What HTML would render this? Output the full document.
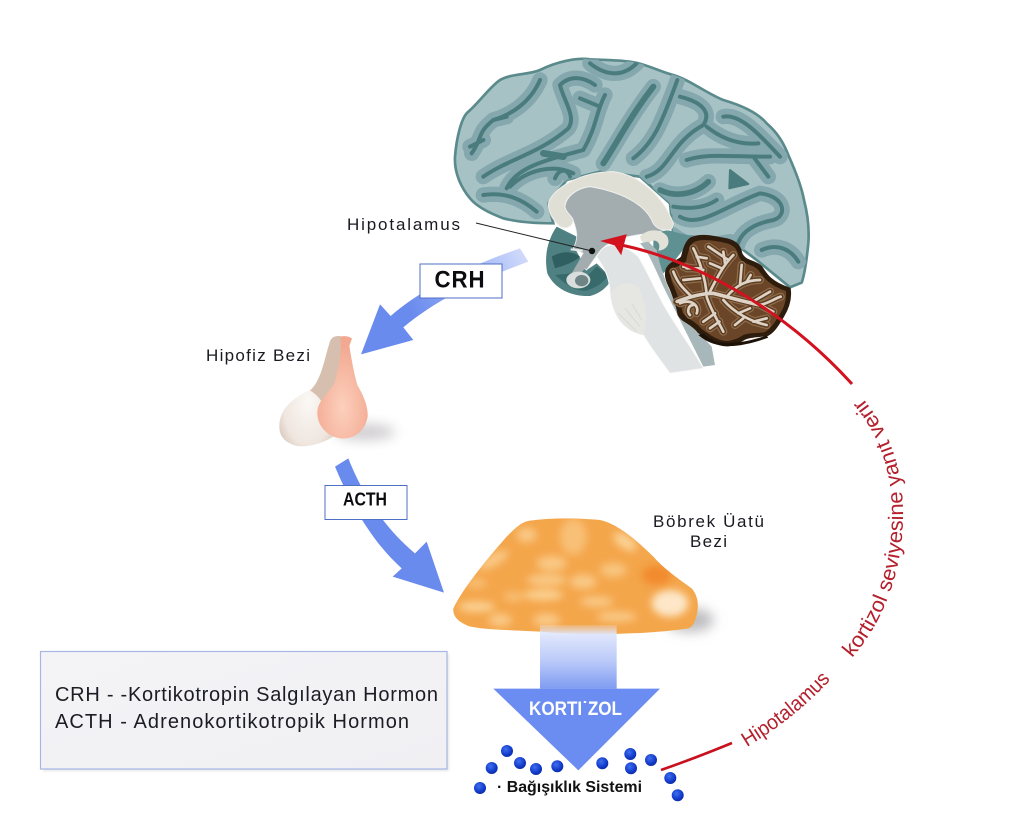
<!DOCTYPE html>
<html><head><meta charset="utf-8">
<style>html,body{margin:0;padding:0;background:#fff}svg{display:block}
text{font-family:"Liberation Sans",sans-serif}</style></head>
<body>
<svg width="1024" height="832" viewBox="0 0 1024 832" xmlns="http://www.w3.org/2000/svg">
<defs>
<linearGradient id="crhz" gradientUnits="userSpaceOnUse" x1="985" y1="135" x2="640" y2="320"><stop offset="0" stop-color="#d3dcfb"/><stop offset=".4" stop-color="#a3b8f6"/><stop offset="1" stop-color="#6a8bee"/></linearGradient>
<linearGradient id="stem" x1="0" y1="0" x2="0" y2="1"><stop offset="0" stop-color="#dfe6fc" stop-opacity=".2"/><stop offset=".16" stop-color="#dfe6fc"/><stop offset=".55" stop-color="#bccbf9"/><stop offset="1" stop-color="#7f9cf1"/></linearGradient>
<linearGradient id="box" x1="0" y1="0" x2="1" y2="1"><stop offset="0" stop-color="#f4f4f7"/><stop offset="1" stop-color="#f0f0f3"/></linearGradient>
<radialGradient id="ball" cx=".4" cy=".35" r=".7"><stop offset="0" stop-color="#3f6ff0"/><stop offset=".7" stop-color="#1038c8"/><stop offset="1" stop-color="#0c2a9c"/></radialGradient>
<radialGradient id="pink" cx=".5" cy=".7" r=".6"><stop offset="0" stop-color="#fcd0bd"/><stop offset="1" stop-color="#f3a991"/></radialGradient>
<radialGradient id="wht" cx=".45" cy=".6" r=".65"><stop offset="0" stop-color="#fbf8f5"/><stop offset=".6" stop-color="#efe6df"/><stop offset="1" stop-color="#c9b3a6"/></radialGradient>
<filter id="b12" x="-60%" y="-80%" width="220%" height="260%"><feGaussianBlur stdDeviation="12"/></filter>
<filter id="b6" x="-40%" y="-60%" width="180%" height="220%"><feGaussianBlur stdDeviation="6"/></filter>
<filter id="b2" x="-10%" y="-10%" width="120%" height="120%"><feGaussianBlur stdDeviation="1.2"/></filter>
<clipPath id="adr"><path d="M40 325C70 265 130 190 200 110C225 85 245 65 270 62C340 52 420 54 480 60C530 70 590 120 640 170C670 205 720 240 755 265C772 285 778 310 770 345C765 365 760 380 745 385C650 400 450 410 300 395C220 390 130 390 85 378C55 365 38 350 40 325Z"/></clipPath>
<clipPath id="brainclip"><path id="bp" d="M45 290C50 230 65 170 85 155C115 130 150 80 180 60C215 40 265 45 300 30C350 5 410 -8 450 -2C490 0 535 0 570 5C620 12 660 35 700 45C750 60 800 100 850 120C900 135 950 155 980 190C1020 225 1035 260 1045 285C1065 330 1085 380 1092 420C1105 470 1108 510 1105 550C1100 600 1095 640 1085 668L1050 682L950 600L870 540L700 525L690 430L600 350L480 335L380 360L325 430L340 490C290 490 240 488 190 475C150 460 110 440 90 415C65 385 42 340 45 290Z"/></clipPath>
<g id="sul" fill="none">
 <path d="M95 280C130 230 110 220 160 180C210 165 270 130 300 60"/>
 <path d="M130 350C200 300 300 280 385 205C410 170 370 120 360 75C390 45 430 50 465 75"/>
 <path d="M200 385C230 320 320 300 430 270C470 200 470 150 495 105"/>
 <path d="M490 310C530 250 570 170 640 80"/>
 <path d="M580 295C640 250 665 190 712 60"/>
 <path d="M450 10C500 50 550 50 590 10"/>
 <path d="M620 350C690 330 690 250 790 195C810 165 800 130 720 110"/>
 <path d="M800 200C850 240 900 255 955 250"/>
 <path d="M850 170C900 160 960 225 1020 290"/>
 <path d="M660 390C710 415 770 400 805 365"/>
 <path d="M720 470C780 505 850 440 960 400C1040 410 1040 470 1000 480C950 490 900 510 890 565"/>
 <path d="M965 570C1010 550 1050 565 1075 605"/>
 <path d="M130 405C200 395 250 420 290 455"/>
 <path d="M210 380C260 330 340 310 400 340"/>
 <path d="M345 355C360 320 385 330 390 350"/>
 <path d="M740 300C800 280 850 290 990 290"/>
 <path d="M700 525C740 560 790 560 870 545"/>
 <path d="M420 115L480 140"/>
 <path d="M160 180L200 170"/>
 <path d="M940 290L985 350"/>
 <path d="M90 260L130 240"/>
 <path d="M700 440C760 450 800 440 830 420"/>
</g>
<g id="br" fill="none" stroke-linecap="round" stroke-linejoin="round">
 <path d="M50 230C90 215 130 205 160 205C200 215 250 230 300 240C325 235 345 220 362 215"/>
 <path d="M140 205C135 160 120 110 100 70"/>
 <path d="M122 130L80 130M110 95L140 100"/>
 <path d="M150 200C170 160 190 120 220 90"/>
 <path d="M185 130L150 115M195 115L190 80M205 105L145 65"/>
 <path d="M200 215C230 180 260 165 300 165"/>
 <path d="M240 180L245 120M260 170L272 150"/>
 <path d="M40 140C55 180 75 195 95 215"/>
 <path d="M70 165L120 160M70 125L130 135"/>
 <path d="M140 215C150 250 170 280 190 320"/>
 <path d="M165 265L130 290M178 290L150 310"/>
 <path d="M190 225C220 260 270 290 320 300"/>
 <path d="M235 265L270 250M250 280L225 300M280 290L320 280"/>
 <path d="M100 240C85 240 80 260 90 270M60 235C90 220 120 240 110 265"/>
 <path d="M270 235L330 200M300 240L340 260"/>
</g>
</defs>

<!-- brain -->
<g transform="translate(440,60) scale(.33333)">
 <use href="#bp" fill="#a6c2c5" stroke="#5a8a8b" stroke-width="8"/>
 <g clip-path="url(#brainclip)" stroke-linecap="round" stroke-linejoin="round">
  <use href="#sul" stroke="#84a8ad" stroke-width="46"/>
  <use href="#sul" stroke="#4a7c7e" stroke-width="12"/>
  <path d="M490 310C530 250 570 170 640 80" fill="none" stroke="#4a7c7e" stroke-width="18"/>
  <path d="M310 280L370 290" fill="none" stroke="#4a7c7e" stroke-width="20"/>
  <path d="M660 390C710 415 770 400 805 365" fill="none" stroke="#4a7c7e" stroke-width="17"/>
  <path d="M870 330L925 372L868 385Z" fill="#4a7c7e" stroke="#4a7c7e" stroke-width="6"/>
 </g>
 <!-- teal area by cerebellum -->
 <path d="M640 500L760 530L690 620L670 640L640 580Z" fill="#5f9092"/>
 <!-- frontal dark lobe -->
 <path d="M350 500C322 540 312 590 322 640C345 690 400 710 450 708C480 700 505 680 515 655L470 610L440 630L405 565L410 530Z" fill="#4f8082"/>
 <path d="M335 590C370 570 400 575 420 590C400 610 360 620 345 625Z" fill="#2f5f60"/>
 <path d="M345 645C370 665 400 695 440 692C470 682 495 665 505 645L470 620L440 650L390 640Z" fill="#376a6b"/>
 <!-- corpus callosum -->
 <path d="M325 430C340 380 430 335 520 335C600 345 670 410 700 490C700 505 690 512 680 510C650 510 640 495 635 480C610 430 540 395 450 380C410 385 375 410 375 440C378 460 400 470 400 482C395 505 370 510 355 495C335 475 325 455 325 430Z" fill="#dfdfd6" stroke="#f0f0ea" stroke-width="3"/>
 <!-- inner gray -->
 <path d="M375 440C378 410 410 385 450 380C540 395 610 430 635 480C640 495 650 510 680 510L630 520C590 525 560 525 500 555C480 570 460 600 440 630L425 620C430 600 435 585 430 580L400 565C415 535 412 515 400 482C400 470 378 460 375 440Z" fill="#a3adb0" stroke="#f0f0f0" stroke-width="2.5"/>
 <!-- fornix cream -->
 <path d="M600 530C620 505 665 505 682 530C692 552 680 570 655 572C665 552 650 535 632 545C622 555 605 555 600 530Z" fill="#e3e2d8"/>
 <path d="M600 550C630 580 650 640 680 700L740 820L790 920L825 915L815 860L750 790C700 730 670 660 650 570L625 545Z" fill="#a8b7b9"/>
 <!-- brainstem -->
 <path d="M470 590C480 570 495 555 515 555C545 555 575 570 595 590C625 640 650 700 680 750C715 810 760 870 790 925L690 940C660 900 630 860 610 825C560 815 515 770 510 700C510 650 490 620 470 590Z" fill="#dfe3e3" stroke="#fafafa" stroke-width="3"/>
 <path d="M512 700C520 780 560 815 610 825C625 790 620 730 595 680C565 660 530 670 512 700Z" fill="#e6e6e3"/>
 <path d="M535 760L590 815M555 745L600 800M575 730L605 780" stroke="#d8d9d6" stroke-width="3" fill="none"/>
 <!-- pituitary stalk -->
 <path d="M430 580L462 590L415 650L395 640Z" fill="#a3adb0"/>
 <ellipse cx="415" cy="660" rx="36" ry="25" fill="#d9dedc"/>
 <ellipse cx="425" cy="662" rx="20" ry="17" fill="#6f8585"/>
 <path d="M392 568L428 572" stroke="#e5e8e8" stroke-width="6" fill="none"/>
</g>

<!-- cerebellum -->
<g transform="translate(660,225) scale(.33333)">
 <path d="M20 130C35 105 55 110 65 95C72 65 80 45 95 38C125 25 165 35 190 40C220 45 240 55 245 85C255 110 285 105 305 125C320 150 335 172 390 190C395 220 385 250 370 275C355 300 340 325 320 332C290 335 270 335 255 342C240 352 225 358 205 362C175 365 140 340 115 322C95 295 65 290 55 270C50 240 40 215 30 190C20 170 12 150 20 130Z" fill="#2e1c0c" stroke="#2e1c0c" stroke-width="4"/>
 <path d="M35 135C50 120 65 125 78 108C85 75 92 55 105 50C130 40 165 48 188 52C212 56 230 65 235 90C245 120 275 115 295 135C310 155 325 180 378 198C380 225 372 250 358 270C345 292 330 315 312 322C285 325 265 323 250 330C235 340 222 345 205 348C178 350 150 330 125 312C105 287 78 280 68 262C62 235 52 210 42 185C33 165 28 150 35 135Z" fill="#6a4527"/>
 <use href="#br" stroke="#8f6f4e" stroke-width="24"/>
 <use href="#br" stroke="#5e3c20" stroke-width="17"/>
 <use href="#br" stroke="#ddd3c6" stroke-width="8"/>
 <path d="M50 230C90 215 130 205 160 205C200 215 250 230 300 240" fill="none" stroke="#ddd3c6" stroke-width="11"/>
 <path d="M130 325C170 365 230 360 320 332L325 338C240 368 170 378 115 330Z" fill="#1d1208"/>
</g>

<!-- leader -->
<line x1="476" y1="223" x2="592" y2="251" stroke="#222" stroke-width="1"/>
<circle cx="592" cy="251" r="3.2" fill="#111"/>
<!-- red arrow -->
<path d="M616 244C690 258 780 305 852 384" fill="none" stroke="#d2121f" stroke-width="3"/>
<path d="M602 241L626 235L621 254L615 245Z" fill="#d2121f" stroke="#d2121f" stroke-width="1"/>
<path d="M661 770C690 760 710 752 732 743" fill="none" stroke="#c7111d" stroke-width="2.6"/>

<!-- curved text -->
<path id="arc1" d="M747 747C775 730 805 708 832 678" fill="none"/>
<path id="arc2" d="M852 658C885 620 902 570 903 520C904 470 890 430 861 396" fill="none"/>
<text font-size="20.500" fill="#b4202c"><textPath href="#arc1" textLength="108" lengthAdjust="spacingAndGlyphs">Hipotalamus</textPath></text>
<text font-size="21" fill="#b4202c"><textPath href="#arc2" textLength="282" lengthAdjust="spacingAndGlyphs">kortizol seviyesine yanıt verir</textPath></text>

<!-- CRH + ACTH arrows -->
<g transform="translate(200,210) scale(.33333)">
 <path d="M960 115L985 155C850 205 720 260 610 352L640 390L483 433L540 283L572 318C660 240 800 170 960 115Z" fill="url(#crhz)"/>
 <path d="M405 770L445 745C490 860 560 960 645 1030L680 995L732 1148L578 1100L605 1075C520 1000 450 880 405 770Z" fill="#6a8bee"/>
</g>
<rect x="420" y="264" width="82" height="34" fill="#fff" stroke="#4f6fc4" stroke-width="1"/>
<text x="460" y="287.500" font-size="24" font-weight="700" text-anchor="middle" fill="#0c0c10" textLength="51" lengthAdjust="spacingAndGlyphs" letter-spacing="1">CRH</text>
<rect x="325" y="485.500" width="82" height="34" fill="#fff" stroke="#4f6fc4" stroke-width="1"/>
<text x="365" y="505.500" font-size="18" font-weight="700" text-anchor="middle" fill="#0c0c10" textLength="44" lengthAdjust="spacingAndGlyphs">ACTH</text>

<!-- pituitary -->
<ellipse cx="365" cy="432" rx="30" ry="8" fill="#cfcccf" filter="url(#b6)"/>
<g transform="translate(200,210) scale(.33333)">
 <path d="M238 650C238 605 265 570 330 540C365 510 372 450 390 395C395 378 415 376 425 380L430 600L400 680C360 705 310 715 280 705C255 695 238 680 238 650Z" fill="url(#wht)"/>
 <path d="M330 542C365 510 372 450 390 395C395 378 415 376 425 380L415 520L365 575C355 560 345 550 330 542Z" fill="#d6bfaf"/>
 <path d="M420 380C435 376 450 380 456 386L448 408C455 450 462 490 472 525C490 555 505 590 503 620C495 665 460 690 420 685C385 680 350 650 352 605C355 565 395 545 405 515C415 470 428 430 420 380Z" fill="url(#pink)"/>
</g>

<!-- labels -->
<g fill="#1a1a22" font-size="17">
<text x="347" y="230" textLength="113" lengthAdjust="spacing">Hipotalamus</text>
<text x="206" y="361" textLength="104" lengthAdjust="spacing">Hipofiz Bezi</text>
<text x="653" y="527" textLength="111" lengthAdjust="spacing">Böbrek Üatü</text>
<text x="690" y="547" textLength="37" lengthAdjust="spacing">Bezi</text>
</g>

<!-- adrenal -->
<ellipse cx="690" cy="620" rx="24" ry="12" fill="#bdbdc0" filter="url(#b6)"/>
<g transform="translate(440,500) scale(.33333)">
 <path d="M40 325C70 265 130 190 200 110C225 85 245 65 270 62C340 52 420 54 480 60C530 70 590 120 640 170C670 205 720 240 755 265C772 285 778 310 770 345C765 365 760 380 745 385C650 400 450 410 300 395C220 390 130 390 85 378C55 365 38 350 40 325Z" fill="#f4a64b"/>
 <g clip-path="url(#adr)">
  <g fill="#fbd193" filter="url(#b12)">
   <ellipse cx="160" cy="180" rx="50" ry="18" transform="rotate(-30 160 180)" opacity=".8"/>
   <ellipse cx="260" cy="105" rx="30" ry="22" opacity=".8"/>
   <ellipse cx="400" cy="110" rx="40" ry="55" opacity=".6"/>
   <ellipse cx="555" cy="125" rx="40" ry="20" transform="rotate(35 555 125)"/>
   <ellipse cx="335" cy="190" rx="45" ry="22" opacity=".8"/>
   <ellipse cx="520" cy="210" rx="40" ry="22" opacity=".7"/>
   <ellipse cx="320" cy="240" rx="60" ry="18" opacity=".8"/>
   <ellipse cx="430" cy="245" rx="40" ry="22" opacity=".8"/>
   <ellipse cx="310" cy="285" rx="60" ry="16"/>
   <ellipse cx="470" cy="305" rx="50" ry="16" opacity=".8"/>
   <ellipse cx="110" cy="320" rx="55" ry="16"/>
   <ellipse cx="180" cy="360" rx="35" ry="20" opacity=".8"/>
   <ellipse cx="320" cy="360" rx="40" ry="20" opacity=".8"/>
   <ellipse cx="530" cy="350" rx="60" ry="16" opacity=".8"/>
   <ellipse cx="690" cy="310" rx="55" ry="40" fill="#fde7c8"/>
   <ellipse cx="110" cy="250" rx="30" ry="14" opacity=".6"/>
   <ellipse cx="220" cy="290" rx="30" ry="14" opacity=".6"/>
  </g>
  <ellipse cx="650" cy="225" rx="45" ry="30" fill="#f2862a" filter="url(#b12)" opacity=".85"/>
 </g>
 <!-- kortizol arrow -->
 <path d="M300 375H530V566H300Z" fill="url(#stem)"/>
 <path d="M160 566H660L415 811Z" fill="#6b8cf0"/>
</g>
<text x="575.500" y="715" font-size="19" font-weight="700" fill="#fff" text-anchor="middle" textLength="93" lengthAdjust="spacingAndGlyphs">KORTI˙ZOL</text>

<!-- balls -->
<g fill="url(#ball)">
<circle cx="507" cy="751" r="6"/><circle cx="491.700" cy="768" r="6"/><circle cx="520" cy="763" r="6"/><circle cx="536" cy="769" r="6"/><circle cx="557.300" cy="766.300" r="6"/><circle cx="602.300" cy="763.300" r="6"/><circle cx="630.300" cy="754" r="6"/><circle cx="651" cy="760" r="6"/><circle cx="631" cy="768.300" r="6"/><circle cx="670.300" cy="778" r="6"/><circle cx="677.700" cy="795.300" r="6"/><circle cx="480" cy="788" r="6"/>
</g>
<text x="497" y="792" font-size="16" font-weight="700" fill="#111" textLength="145" lengthAdjust="spacingAndGlyphs">· Bağışıklık Sistemi</text>

<!-- info box -->
<rect x="43" y="654" width="406" height="117" fill="#e4e4e8" filter="url(#b2)"/>
<rect x="40.500" y="651.500" width="406.500" height="117.500" fill="url(#box)" stroke="#a7b6e2" stroke-width="1.200"/>
<g font-size="20" fill="#1c1c24">
<text x="55" y="701" textLength="383" lengthAdjust="spacing">CRH - -Kortikotropin Salgılayan Hormon</text>
<text x="55" y="728" textLength="354" lengthAdjust="spacing">ACTH - Adrenokortikotropik Hormon</text>
</g>
</svg>
</body></html>
